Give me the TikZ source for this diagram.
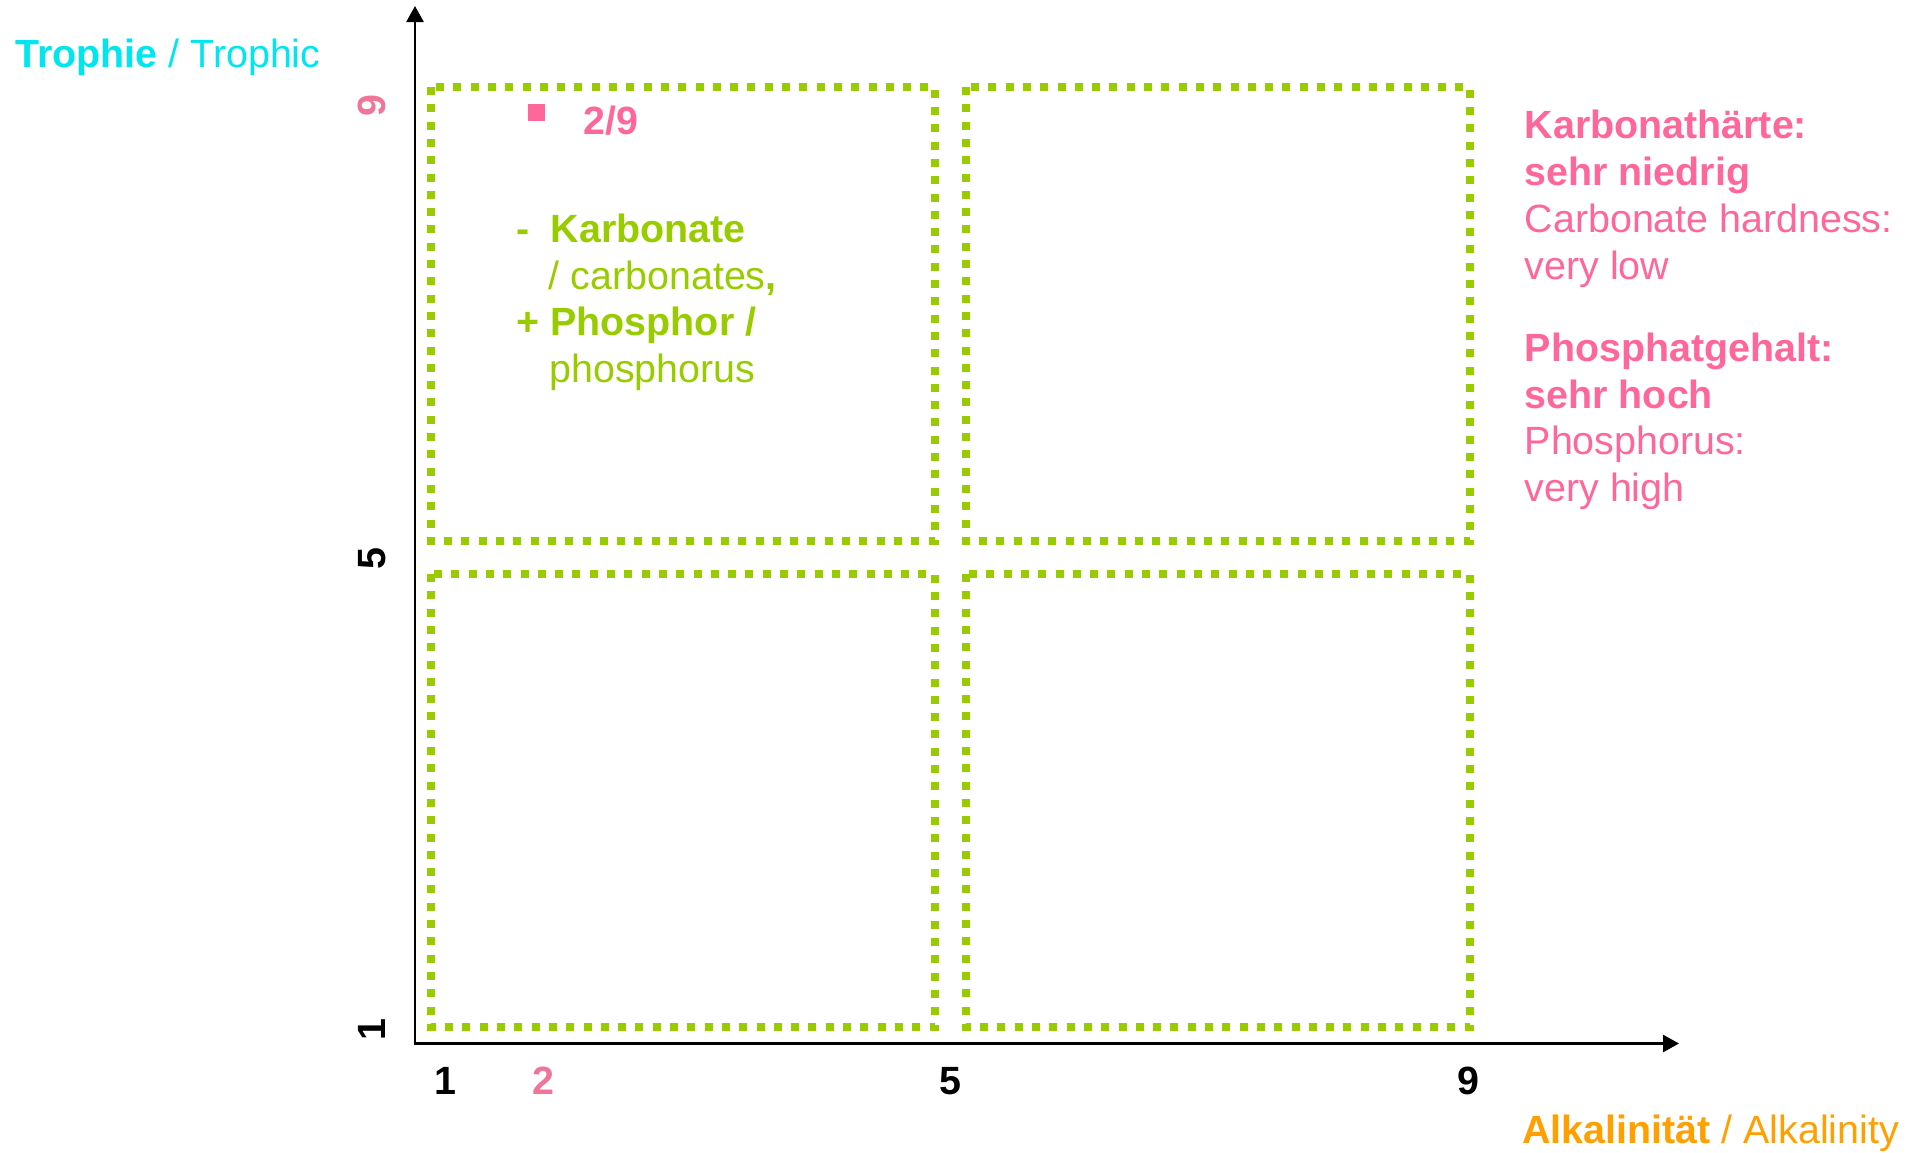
\documentclass[tikz,border=0pt]{standalone}
\usepackage{fontspec}
\setmainfont{Liberation Sans}
\usetikzlibrary{arrows.meta}
\definecolor{cyanT}{RGB}{0,230,240}
\definecolor{pinkA}{RGB}{255,102,153}
\definecolor{pinkB}{RGB}{240,118,153}
\definecolor{greenA}{RGB}{153,204,0}
\definecolor{orangeA}{RGB}{255,160,0}
\begin{document}
\begin{tikzpicture}[x=0.5pt,y=-0.5pt,
  axisline/.style={line width=1.3pt,{Triangle[length=8pt,width=8.5pt]}-{Triangle[length=8pt,width=8.5pt]}},
  dotbox/.style={draw=greenA,line width=4pt,dash pattern=on 4pt off 4.65pt},
  txt/.style={inner sep=0pt,font=\fontsize{19.7pt}{23.4pt}\selectfont},
  tick/.style={inner sep=0pt,font=\fontsize{19.7pt}{23.4pt}\selectfont\bfseries,anchor=base}]
\useasboundingbox (0,0) rectangle (1925,1152);

% axes
\coordinate (O) at (415,1043.5);
\coordinate (Ytip) at (415,6);
\coordinate (Xtip) at (1679,1043.5);
\draw[axisline] (Ytip) -- (O) -- (Xtip);

% dotted quadrants
\draw[dotbox] (431,87) rectangle (935,541);
\draw[dotbox] (966,87) rectangle (1470,541);
\draw[dotbox] (431,574) rectangle (935,1027);
\draw[dotbox] (966,574) rectangle (1470,1027);

% axis titles
\node[txt,anchor=base west,text=cyanT] (ytitle) at (15,67) {\textbf{Trophie} / Trophic};
\node[txt,anchor=base west,text=orangeA] (xtitle) at (1522,1143) {\textbf{Alkalinität} / Alkalinity};

% tick labels
\node[tick] (x1) at (445,1094) {1};
\node[tick,text=pinkB] (x2) at (543.5,1094) {2};
\node[tick] (x5) at (950,1094) {5};
\node[tick] (x9) at (1468,1094) {9};
\node[tick,rotate=90,text=pinkB] (y9) at (385,105.5) {9};
\node[tick,rotate=90] (y5) at (385,558.5) {5};
\node[tick,rotate=90] (y1) at (385,1030) {1};

% data point
\node[fill=pinkA,minimum size=8.5pt,inner sep=0pt] (pt) at (536.5,112.5) {};
\node[txt,anchor=base west,text=pinkA,font=\fontsize{19.7pt}{23.4pt}\selectfont\bfseries] (ptlabel) at (583,134) {2/9};

% green note (anchor = baseline of last line)
\node[txt,anchor=base west,align=left,text=greenA] (note) at (515.7,382.7)
  {{\bfseries\makebox[17.3pt][l]{-}Karbonate}\\
   \hspace*{16.4pt}/ carbonates{\bfseries ,}\\
   {\bfseries\makebox[17.2pt][l]{+}Phosphor /}\\
   \hspace*{16.7pt}phosphorus};

% pink description (anchor = baseline of last line)
\node[txt,anchor=base west,align=left,text=pinkA] (carb) at (1524.3,279.3)
  {\textbf{Karbonathärte:}\\ \textbf{sehr niedrig}\\ Carbonate hardness:\\ very low};
\node[txt,anchor=base west,align=left,text=pinkA] (phos) at (1524.3,501.7)
  {\textbf{Phosphatgehalt:}\\ \textbf{sehr hoch}\\ Phosphorus:\\ very high};
\end{tikzpicture}
\end{document}
